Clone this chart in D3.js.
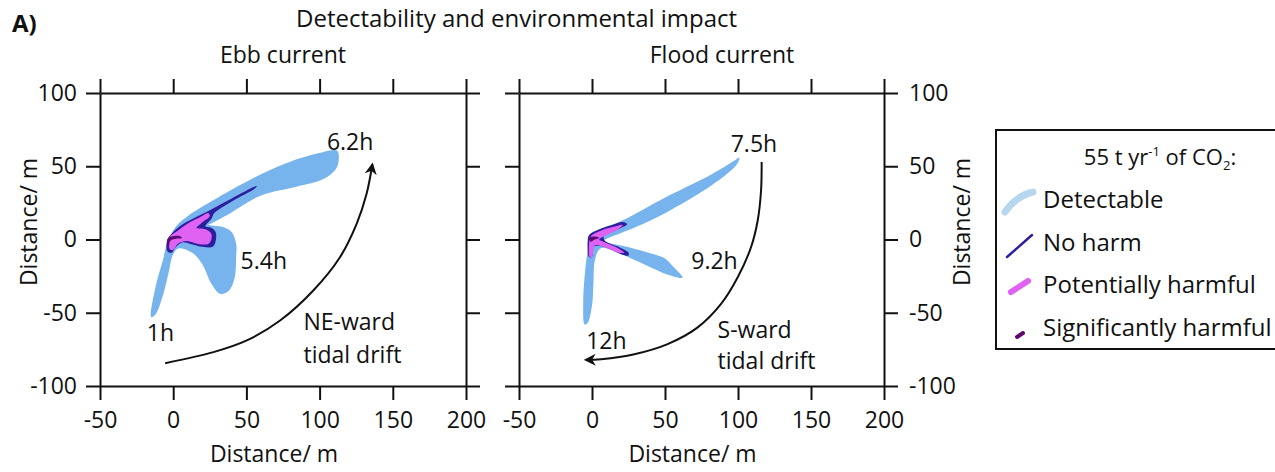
<!DOCTYPE html>
<html>
<head>
<meta charset="utf-8">
<script src="https://cdn.jsdelivr.net/npm/d3@7"></script>
<style>
  body { margin: 0; background: #fff; }
  text { font-family: "Open Sans", sans-serif; fill: #111; }
</style>
</head>
<body>
<div id="chart"></div>
<script>
// ---- valores ----
const xTicks = [-50, 0, 50, 100, 150, 200];
const yTicks = [-100, -50, 0, 50, 100];
const xDomain = [-50, 200];
const yDomain = [-100, 100];

// Ebb current (contornos en metros)
const ebbDetectable = [[-15,-53],[-12,-32],[-7,-14],[-4,-2],[2,9],[12,17.5],[25,25.5],[50,39.5],[77,52],[100,59],[112,60.5],
  [113,54],[111,48],[103,41.5],[84,36],[60,30],[39,18],[27,11.5],[24,10],[34,8.5],[40,5],[43,-3],[43,-12],[42,-26],
  [38,-35],[32,-37],[26,-30],[20,-17],[13,-9],[4,-6],[0,-10],[-3,-22],[-7,-38],[-12,-51]];
const ebbNoHarm = [[-4,-8],[-4,0],[-1,4],[6,10],[15,15],[25,20],[40,28],[57,36.5],[56,35],[40,26],[28,18],[26,14],
  [22,9],[26,8],[29,5],[29,-1],[27,-5],[20,-5],[12,-3],[6,-2],[1,-6],[-1,-9]];
const ebbPotential = [[-3,-3],[-2,2],[3,6],[10,11],[18,15],[24,18],[25,16],[19,11],[16,8],[22,7],[26,4],[26,0],
  [24,-3],[17,-3],[9,-1],[3,-3],[0,-7],[-2,-7]];
const ebbSignificant = [[-4,0],[-1,2],[4,2.5],[6,1],[2,0.5],[-2,-1],[-3,-5]];
const ebbDrift = [[-5.5,-84.4],[27.5,-76.9],[50.3,-68.9],[73,-55.3],[95.7,-34.8],[113.9,-12.1],[125.3,10.7],[132.1,31.2],[136,51]];
const ebbLabels = [
  { text: "6.2h", x: 105, y: 61 },
  { text: "5.4h", x: 46, y: -20 },
  { text: "1h", x: -18, y: -69 },
  { text: "NE-ward", x: 89, y: -62 },
  { text: "tidal drift", x: 89, y: -84 }
];

// Flood current
const floodDetectable = [[-5,-58],[-6,-42],[-4,-15],[-2,-3],[-1,2],[5,6],[24,14.5],[47,27],[82,44.5],[97,53.5],[101,56],
  [99,51],[82,37],[50,18],[30,8.5],[20,4.5],[10,0.5],[8,-1],[24,-5],[45,-11],[50,-13],[56,-19],[62,-26],[52,-24],[36,-17],
  [20,-10],[6,-6],[2,-14],[1,-30],[0,-45],[-3,-57]];
const floodNoHarm = [[-2,-12],[-3,-2],[-2,3],[5,7],[14,10],[21,12],[24,10.5],[20,8],[8,2],[9,-1],[18,-5],[25,-9],
  [25,-11],[20,-10],[8,-5],[1,-5],[0,-12]];
const floodPotential = [[-1.5,-12],[-2,-3],[-1,2],[6,6],[14,8.5],[21,10],[18,7],[8,2],[5,0],[9,-2],[16,-5],[22,-9],
  [18,-9],[8,-5],[2,-4],[0,-12]];
const floodSignificant = [[-2,1],[2,2],[5,1],[2,0],[-1,-1.5]];
const floodDrift = [[116.2,52.9],[115.8,33.6],[113.5,13],[108.9,-5.3],[99.8,-25.8],[88.4,-44],[72.4,-60],[51.8,-71.4],
  [29,-78.3],[6.2,-81.7],[-4,-82.2]];
const floodLabels = [
  { text: "7.5h", x: 95, y: 60 },
  { text: "9.2h", x: 68, y: -20 },
  { text: "12h", x: -4, y: -75 },
  { text: "S-ward", x: 86, y: -67 },
  { text: "tidal drift", x: 86, y: -88.5 }
];

const legendItems = ["Detectable", "No harm", "Potentially harmful", "Significantly harmful"];
const colores = { detectable: "#77b3ec", noHarm: "#2b1f9e", potential: "#df62f2", significant: "#5c0a72" };

// ---- dibujo ----
const width = 1275, height = 472;
const svg = d3.select("#chart").append("svg")
  .attr("width", width)
  .attr("height", height);

svg.append("defs").append("marker")
  .attr("id", "flecha")
  .attr("viewBox", "0 0 10 10")
  .attr("refX", 8).attr("refY", 5)
  .attr("markerWidth", 6).attr("markerHeight", 6)
  .attr("orient", "auto")
  .append("path")
  .attr("d", "M0,0 L10,5 L0,10 L3,5 Z")
  .attr("fill", "#111");

// titulos
svg.append("text").attr("x", 12).attr("y", 32)
  .style("font-size", "24px").style("font-weight", "bold").text("A)");
svg.append("text").attr("x", 296).attr("y", 27)
  .style("font-size", "24px")
  .text("Detectability and environmental impact");

const paneles = [
  { titulo: "Ebb current", left: 100, right: 466, tx: 283, labelSide: "left",
    det: ebbDetectable, noh: ebbNoHarm, pot: ebbPotential, sig: ebbSignificant, drift: ebbDrift, labels: ebbLabels },
  { titulo: "Flood current", left: 519, right: 884, tx: 722, labelSide: "right",
    det: floodDetectable, noh: floodNoHarm, pot: floodPotential, sig: floodSignificant, drift: floodDrift, labels: floodLabels }
];
const plotTop = 93, plotBottom = 386;

const forma = d3.line().curve(d3.curveCatmullRomClosed.alpha(0.5));
const curva = d3.line().curve(d3.curveCatmullRom.alpha(0.5));

paneles.forEach(p => {
  const x = d3.scaleLinear().domain(xDomain).range([p.left, p.right]);
  const y = d3.scaleLinear().domain(yDomain).range([plotBottom, plotTop]);
  const g = svg.append("g");

  const pts = arr => arr.map(d => [x(d[0]), y(d[1])]);

  // plumas
  g.append("path").attr("d", forma(pts(p.det))).attr("fill", colores.detectable);
  g.append("path").attr("d", forma(pts(p.noh))).attr("fill", colores.noHarm);
  g.append("path").attr("d", forma(pts(p.pot))).attr("fill", colores.potential);
  g.append("path").attr("d", forma(pts(p.sig))).attr("fill", colores.significant);

  // deriva de marea
  g.append("path").attr("d", curva(pts(p.drift)))
    .attr("fill", "none").attr("stroke", "#111").attr("stroke-width", 2)
    .attr("marker-end", "url(#flecha)");

  g.selectAll(".anot").data(p.labels).enter().append("text")
    .attr("x", d => x(d.x)).attr("y", d => y(d.y))
    .style("font-size", "23px").text(d => d.text);

  // ejes
  const fmt = d => String(d);
  const ejes = [
    { ax: d3.axisTop(x).tickValues(xTicks).tickFormat(""), tr: `translate(0,${plotTop})` },
    { ax: d3.axisBottom(x).tickValues(xTicks).tickFormat(fmt).tickPadding(12), tr: `translate(0,${plotBottom})` },
    { ax: d3.axisLeft(y).tickValues(yTicks).tickFormat(fmt).tickPadding(9), tr: `translate(${p.left},0)`, hide: p.labelSide !== "left" },
    { ax: d3.axisRight(y).tickValues(yTicks).tickFormat(fmt).tickPadding(11), tr: `translate(${p.right},0)`, hide: p.labelSide !== "right" }
  ];
  ejes.forEach(e => {
    if (e.hide) e.ax.tickFormat("");
    const a = g.append("g").attr("transform", e.tr)
      .call(e.ax.tickSize(14).tickSizeOuter(0));
    a.selectAll("path, line").attr("stroke", "#111").attr("stroke-width", 2);
    a.selectAll("text").style("font-family", "'Open Sans', sans-serif")
      .style("font-size", "23px").attr("fill", "#111");
  });

  g.append("text").attr("x", p.tx).attr("y", 63).attr("text-anchor", "middle")
    .style("font-size", "23px").text(p.titulo);
  g.append("text").attr("x", (p.left + p.right) / 2 - 9).attr("y", 462).attr("text-anchor", "middle")
    .style("font-size", "23px").text("Distance/ m");
  const yx = p.labelSide === "left" ? 37 : 970;
  g.append("text").attr("transform", `translate(${yx},222) rotate(-90)`).attr("text-anchor", "middle")
    .style("font-size", "23px").text("Distance/ m");
});

// leyenda
const leg = svg.append("g");
leg.append("rect").attr("x", 996).attr("y", 130).attr("width", 300).attr("height", 219)
  .attr("fill", "none").attr("stroke", "#111").attr("stroke-width", 2);
const lt = leg.append("text").attr("x", 1160).attr("y", 165).attr("text-anchor", "middle")
  .style("font-size", "22px");
lt.append("tspan").text("55 t yr");
lt.append("tspan").attr("dy", -9).style("font-size", "13px").text("-1");
lt.append("tspan").attr("dy", 9).text(" of CO");
lt.append("tspan").attr("dy", 5).style("font-size", "13px").text("2");
lt.append("tspan").attr("dy", -5).text(":");

const iconos = [
  { d: "M1005,212 Q1016,196 1033,192", c: "#b7d7ef", w: 7 },
  { d: "M1007,257 L1032,235", c: colores.noHarm, w: 2.5 },
  { d: "M1011,292 L1028,281", c: colores.potential, w: 6 },
  { d: "M1017,337 L1023,333", c: colores.significant, w: 4 }
];
leg.selectAll(".item").data(legendItems).enter().append("text")
  .attr("x", 1043).attr("y", (d, i) => 208 + i * 42.5)
  .style("font-size", "24px").text(d => d);
leg.selectAll(".icono").data(iconos).enter().append("path")
  .attr("d", d => d.d).attr("fill", "none").attr("stroke", d => d.c)
  .attr("stroke-width", d => d.w).attr("stroke-linecap", "round");
</script>
</body>
</html>
